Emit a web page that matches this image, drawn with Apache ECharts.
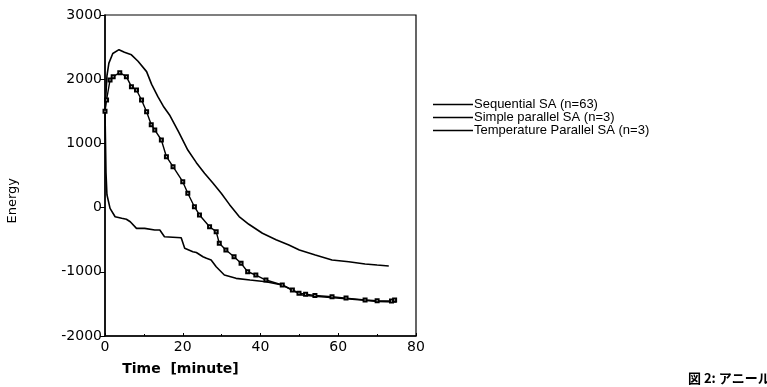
<!DOCTYPE html>
<html><head><meta charset="utf-8">
<script src="https://cdn.jsdelivr.net/npm/echarts@6/dist/echarts.min.js"></script>
<style>html,body{margin:0;padding:0;background:#fff}#c{width:767px;height:387px}</style>
</head><body><div id="c"></div>
<script>
const seriesNames = ['Sequential SA (n=63)', 'Simple parallel SA (n=3)', 'Temperature Parallel SA (n=3)'];
const xTicks = [0, 20, 40, 60, 80];
const yTicks = [-2000, -1000, 0, 1000, 2000, 3000];

const seqT = [0,0.5,1,2,3.6,5,6.8,8.5,10.7,12,13.6,15,16.6,19,21.3,23.5,25.6,27.8,29.9,32,34.5,37,40.5,44,47.3,50,54.1,58.4,62.7,66.9,70,73];
const seqV = [1500,2050,2250,2400,2460,2420,2380,2280,2118,1920,1728,1580,1443,1170,897,700,534,380,223,50,-140,-260,-400,-500,-583,-660,-738,-816,-843,-879,-895,-910];

const simT = [0,0.4,1.3,2.1,3.8,5.5,6.8,8.1,9.4,10.7,11.9,12.8,14.5,15.8,17.5,20,21.3,23,24.3,26.9,28.6,29.4,31.1,33.2,35,36.7,38.8,41.4,45.6,48.2,49.9,51.6,54,58.4,62,66.9,70,73.7,74.5];
const simV = [1500,1676,1988,2040,2102,2040,1884,1832,1676,1494,1290,1209,1053,793,637,403,223,14,-115,-298,-375,-556,-661,-765,-868,-999,-1050,-1128,-1206,-1284,-1335,-1350,-1370,-1388,-1410,-1440,-1450,-1455,-1440];

const tmpT = [0,0.26,0.5,1.3,2.6,4.3,5.5,6.5,8.1,10.2,12.8,14.1,15.3,15.8,19.6,20.5,22.6,23.5,25.2,26.1,27.3,28.6,30.7,33.7,37.3,41.4,45.6,48.2,50.7,54,58,62,66,70,75];
const tmpV = [1500,539,200,-11,-142,-167,-182,-220,-323,-323,-349,-349,-453,-453,-470,-634,-687,-700,-765,-790,-816,-921,-1050,-1102,-1128,-1154,-1206,-1284,-1362,-1380,-1400,-1420,-1440,-1460,-1470];

function pairs(t, v) { return t.map((x, i) => [x, v[i]]); }

const font = 'DejaVu Sans, Liberation Sans, sans-serif';
const sans = 'Liberation Sans, Arial, sans-serif';
const chart = echarts.init(document.getElementById('c'), null, {renderer: 'canvas'});
chart.setOption({
  animation: false,
  backgroundColor: '#fff',
  title: {
    text: '図 2: アニール', left: 683, top: 367,
    textStyle: {fontFamily: 'Noto Sans CJK JP', fontWeight: 'bold', fontSize: 13, color: '#000'}
  },
  graphic: [{
    type: 'text', left: 6, top: 178, rotation: Math.PI / 2,
    style: {text: 'Energy', font: '13px ' + font, fill: '#000'}
  }],
  grid: {left: 105, right: 351, top: 15, bottom: 51, show: true, borderColor: '#000', borderWidth: 1.2},
  legend: {
    orient: 'vertical', left: 428, top: 93, itemGap: 0, itemWidth: 40, itemHeight: 1.5,
    icon: 'rect', selectedMode: false,
    itemStyle: {color: '#000', borderWidth: 0},
    textStyle: {fontFamily: sans, fontSize: 13, color: '#000', padding: [0, 0, 0, -4], lineHeight: 12},
    data: seriesNames
  },
  xAxis: {
    type: 'value', min: 0, max: 80, interval: 20,
    name: 'Time  [minute]', nameLocation: 'middle', nameGap: 26,
    nameTextStyle: {fontFamily: font, fontSize: 14, fontWeight: 'bold', color: '#000', padding: [0, 0, 0, -160]},
    axisLine: {onZero: false, lineStyle: {color: '#000', width: 1.5}},
    axisTick: {show: true, inside: true, length: 3, lineStyle: {color: '#000'}},
    minorTick: {show: true, splitNumber: 2, length: 2, lineStyle: {color: '#000'}},
    axisLabel: {fontFamily: font, fontSize: 14, color: '#000', margin: 4},
    splitLine: {show: false}
  },
  yAxis: {
    type: 'value', min: -2000, max: 3000, interval: 1000,
    axisLine: {lineStyle: {color: '#000', width: 1.5}},
    axisTick: {show: true, length: 5, lineStyle: {color: '#000'}},
    axisLabel: {fontFamily: font, fontSize: 14, color: '#000', margin: 3, formatter: v => String(v)},
    splitLine: {show: false}
  },
  series: [
    {name: seriesNames[0], type: 'line', data: pairs(seqT, seqV), showSymbol: false, symbol: 'none',
     lineStyle: {color: '#000', width: 1.6}, itemStyle: {color: '#000'}},
    {name: seriesNames[1], type: 'line', data: pairs(simT, simV), symbol: 'emptyRect', symbolSize: 3, showSymbol: true,
     lineStyle: {color: '#000', width: 1.4}, itemStyle: {color: '#000', borderColor: '#000', borderWidth: 1}},
    {name: seriesNames[2], type: 'line', data: pairs(tmpT, tmpV), showSymbol: false, symbol: 'none',
     lineStyle: {color: '#000', width: 1.6}, itemStyle: {color: '#000'}}
  ]
});
</script></body></html>
